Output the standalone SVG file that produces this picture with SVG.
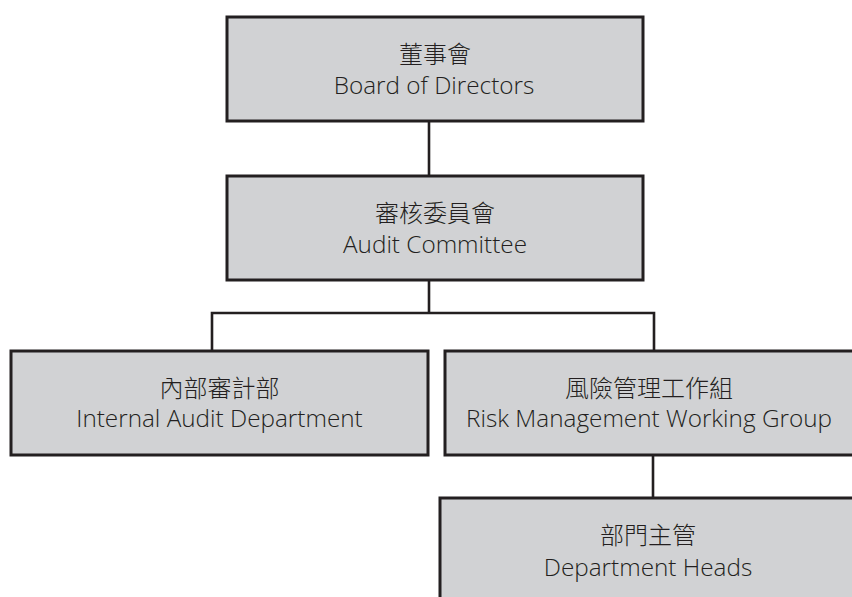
<svg xmlns="http://www.w3.org/2000/svg" width="852" height="597" viewBox="0 0 852 597">
<style>
.box{fill:#d1d2d4;stroke:#231f20;stroke-width:3}
.ln{fill:none;stroke:#231f20;stroke-width:2.6}
text{font-family:"Open Sans","Noto Sans CJK TC",sans-serif;font-size:24.3px;font-weight:300;fill:#231f20;text-anchor:middle}
.zh{font-family:"Noto Sans CJK TC","Noto Sans CJK SC",sans-serif;font-weight:300;font-size:24px}
</style>
<rect width="852" height="597" fill="#fff"/>
<g id="connectors">
<line class="ln" x1="429" y1="122" x2="429" y2="175"/>
<line class="ln" x1="429" y1="281" x2="429" y2="313"/>
<polyline class="ln" points="212,350 212,313 654,313 654,350"/>
<line class="ln" x1="653" y1="456" x2="653" y2="497"/>
</g>
<g id="board">
<rect class="box" x="227" y="17" width="416" height="104"/>
<text class="zh" x="435" y="63">董事會</text>
<text x="434" y="94">Board of Directors</text>
</g>
<g id="audit-committee">
<rect class="box" x="227" y="176" width="416" height="104"/>
<text class="zh" x="435" y="222">審核委員會</text>
<text x="435" y="253">Audit Committee</text>
</g>
<g id="internal-audit">
<rect class="box" x="11" y="351" width="417" height="104"/>
<text class="zh" x="219.5" y="397">內部審計部</text>
<text x="219.5" y="427">Internal Audit Department</text>
</g>
<g id="risk-management">
<rect class="box" x="445" y="351" width="410" height="104"/>
<text class="zh" x="649" y="397">風險管理工作組</text>
<text x="649" y="427">Risk Management Working Group</text>
</g>
<g id="department-heads">
<rect class="box" x="440" y="498" width="416" height="104"/>
<text class="zh" x="648" y="544">部門主管</text>
<text x="648" y="576">Department Heads</text>
</g>
</svg>
